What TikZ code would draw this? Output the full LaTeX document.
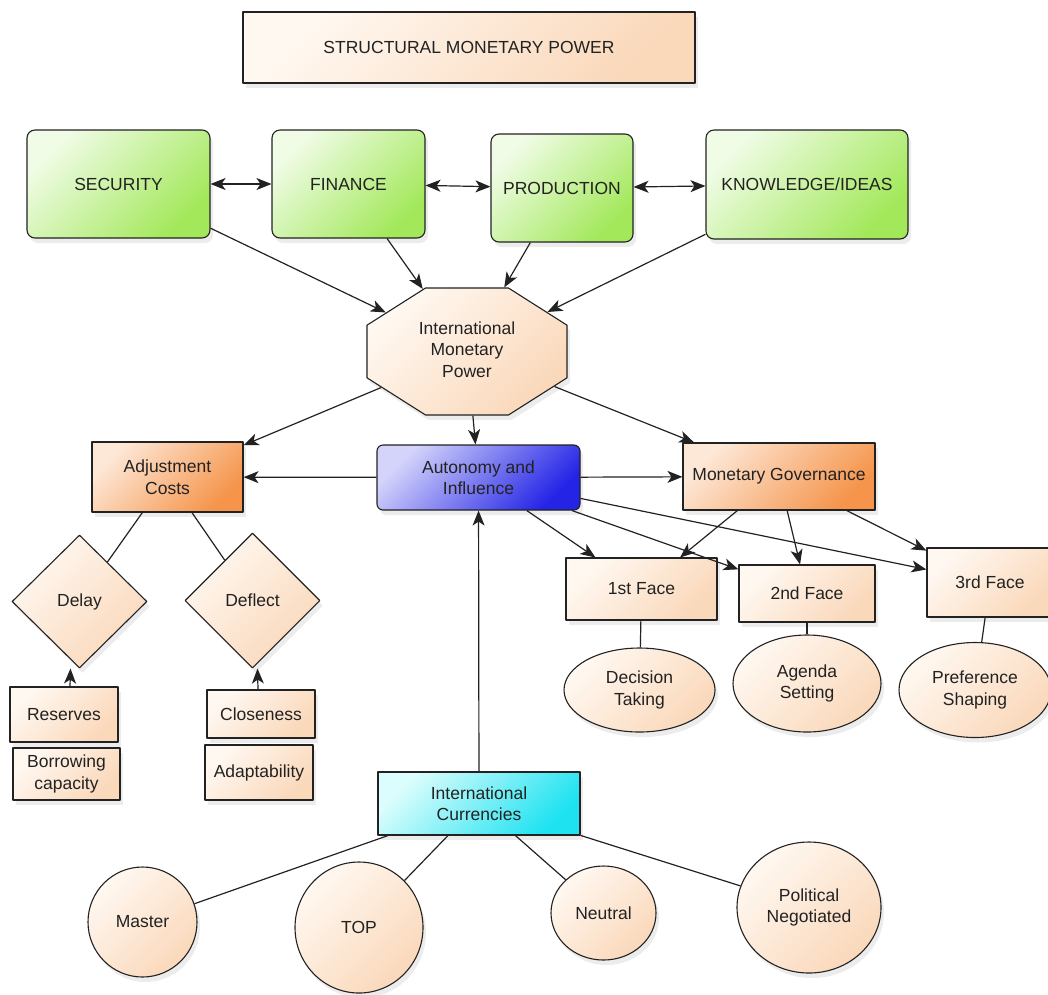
\documentclass[tikz,border=0pt]{standalone}
\usepackage{fontspec}
\usepackage{graphicx}
\setmainfont{Liberation Sans}
\usetikzlibrary{arrows.meta,shapes.geometric,shadows}

\definecolor{greenL}{HTML}{F0FCE6}
\definecolor{greenD}{HTML}{A2E85A}
\definecolor{peachL}{HTML}{FFF8F1}
\definecolor{peachD}{HTML}{FAD8BA}
\definecolor{orangeL}{HTML}{FDE8D8}
\definecolor{orangeD}{HTML}{F5944A}
\definecolor{blueL}{HTML}{D4D4FB}
\definecolor{blueD}{HTML}{2424E6}
\definecolor{cyanL}{HTML}{DCFDFD}
\definecolor{cyanD}{HTML}{1EE2F0}
\definecolor{ink}{HTML}{222222}

\tikzset{
  box/.style={draw=ink, line width=1.1pt, align=center, inner sep=2pt, text=ink,
    drop shadow={opacity=0.15, shadow xshift=3pt, shadow yshift=-5pt}},
  greenbox/.style={box, rounded corners=8pt, top color=greenL, bottom color=greenD, shading angle=45},
  peachbox/.style={box, top color=peachL, bottom color=peachD, shading angle=45},
  orangebox/.style={box, top color=orangeL, bottom color=orangeD, shading angle=45},
  bluebox/.style={box, rounded corners=6pt, top color=blueL, bottom color=blueD, shading angle=45},
  cyanbox/.style={box, top color=cyanL, bottom color=cyanD, shading angle=45},
  peachoval/.style={peachbox, ellipse},
  peachdiamond/.style={peachbox, diamond},
  link/.style={draw=ink, line width=1.2pt}
}

\begin{document}
\begin{tikzpicture}[x=1pt, y=-1pt, font=\fontsize{17.5}{21.5}\selectfont, line join=round, >={Stealth[length=15pt,width=12pt,inset=4pt]}]
\path[use as bounding box, clip] (0,0) rectangle (1048,994);

% title and the four structures
\node[peachbox, minimum width=452pt, minimum height=71pt] (title) at (469,47.5) {STRUCTURAL MONETARY POWER};
\node[greenbox, minimum width=183pt, minimum height=108pt] (sec) at (118.5,184) {SECURITY};
\node[greenbox, minimum width=153pt, minimum height=108pt] (fin) at (348.5,184) {FINANCE};
\node[greenbox, minimum width=142pt, minimum height=108pt] (prod) at (562,188) {PRODUCTION};
\node[greenbox, minimum width=202pt, minimum height=109pt] (know) at (807,184.5) {KNOWLEDGE/IDEAS};

% octagon: regular one, stretched sideways (text squeezed back)
\node[peachbox, regular polygon, regular polygon sides=8, minimum size=137.5pt, xscale=1.575, transform shape]
  (imp) at (467,351.5) {\scalebox{0.635}[1]{\begin{tabular}{@{}c@{}}International\\Monetary\\Power\end{tabular}}};

% middle row
\node[orangebox, minimum width=151pt, minimum height=70pt] (adj) at (167.5,477) {Adjustment\\Costs};
\node[bluebox, minimum width=203pt, minimum height=65pt] (aut) at (478.5,477.5) {Autonomy and\\Influence};
\node[orangebox, minimum width=192pt, minimum height=67pt] (gov) at (779,476.5) {Monetary Governance};

% faces of power
\node[peachbox, minimum width=151pt, minimum height=62pt] (face1) at (641.5,589) {1st Face};
\node[peachbox, minimum width=136pt, minimum height=57pt] (face2) at (807,593.5) {2nd Face};
\node[peachbox, minimum width=126pt, minimum height=69pt] (face3) at (990,582.5) {3rd Face};
\node[peachoval, minimum width=151pt, minimum height=84pt] (taking) at (639.5,690) {Decision\\Taking};
\node[peachoval, minimum width=148pt, minimum height=97pt] (agenda) at (807,683.5) {Agenda\\Setting};
\node[peachoval, minimum width=152pt, minimum height=95pt] (shaping) at (975,690) {Preference\\Shaping};

% adjustment
\node[peachdiamond, minimum width=135pt, minimum height=133pt] (delay) at (79.5,601.5) {Delay};
\node[peachdiamond, minimum width=135pt, minimum height=135pt] (deflect) at (252.5,600.5) {Deflect};
\node[peachbox, minimum width=108pt, minimum height=55pt] (reserves) at (64,714.5) {Reserves};
\node[peachbox, minimum width=107pt, minimum height=52pt] (borrow) at (66.5,774) {Borrowing\\capacity};
\node[peachbox, minimum width=108pt, minimum height=48pt] (close) at (261,714) {Closeness};
\node[peachbox, minimum width=108pt, minimum height=55pt] (adapt) at (259,772.5) {Adaptability};

% currencies
\node[cyanbox, minimum width=202pt, minimum height=63pt] (curr) at (479,803.5) {International\\Currencies};
\node[peachoval, minimum width=109pt, minimum height=110pt] (master) at (142.5,922) {Master};
\node[peachoval, minimum width=128pt, minimum height=131pt] (topc) at (359,927.5) {TOP};
\node[peachoval, minimum width=105pt, minimum height=94pt] (neutral) at (603.5,913) {Neutral};
\node[peachoval, minimum width=144pt, minimum height=131pt] (polit) at (809,907.5) {Political\\Negotiated};

% connectors
\draw[link, <->] (sec) -- (fin);
\draw[link, <->] (fin) -- (prod);
\draw[link, <->] (prod) -- (know);
\foreach \n in {sec,fin,prod,know}
  \draw[link, ->] (\n) -- (imp);
\foreach \n in {adj,aut,gov}
  \draw[link, ->] (imp) -- (\n);
\draw[link, ->] (aut) -- (adj);
\draw[link, ->] (aut) -- (gov);
\foreach \n in {face1,face2,face3} {
  \draw[link, ->] (aut) -- (\n);
  \draw[link, ->] (gov) -- (\n);
}
\draw[link] (face1) -- (taking);
\draw[link] (face2) -- (agenda);
\draw[link] (face3) -- (shaping);
\draw[link] (adj) -- (delay);
\draw[link] (adj) -- (deflect);
\draw[link, ->] ([xshift=6pt]reserves.north) -- ([xshift=-9pt]delay.south);
\draw[link, ->] ([xshift=-3pt]close.north) -- ([xshift=5pt]deflect.south);
\draw[link, ->] (curr) -- (aut);
\foreach \n in {master,topc,neutral,polit}
  \draw[link] (curr) -- (\n);
\end{tikzpicture}
\end{document}
